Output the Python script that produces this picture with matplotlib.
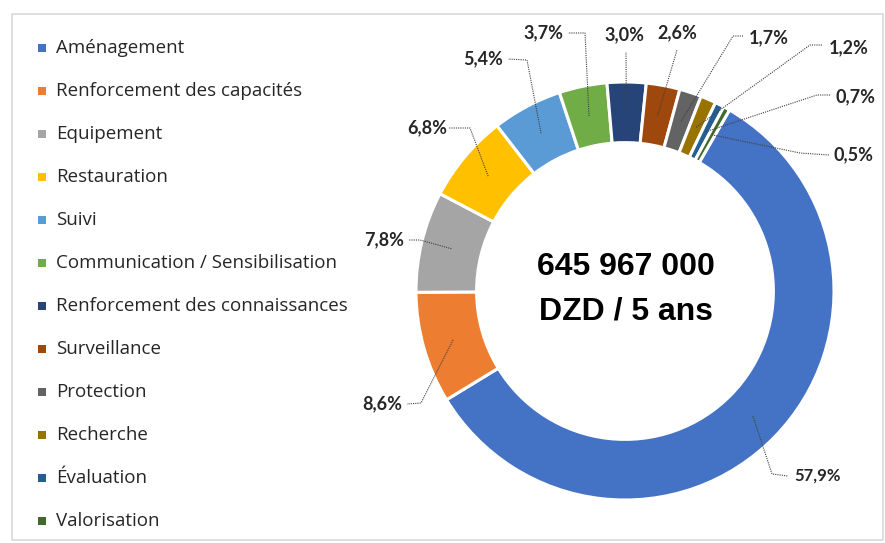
import numpy as np
import matplotlib
matplotlib.use("Agg")
import matplotlib.pyplot as plt
from matplotlib.patches import Rectangle

# ---------------- data ----------------
categories = ["Aménagement", "Renforcement des capacités", "Equipement", "Restauration",
              "Suivi", "Communication / Sensibilisation", "Renforcement des connaissances",
              "Surveillance", "Protection", "Recherche", "Évaluation", "Valorisation"]
shares = [57.9, 8.6, 7.8, 6.8, 5.4, 3.7, 3.0, 2.6, 1.7, 1.2, 0.7, 0.5]
colors = ["#4472C4", "#ED7D31", "#A5A5A5", "#FFC000", "#5B9BD5", "#70AD47",
          "#264478", "#9E480E", "#636363", "#997300", "#255E91", "#43682B"]
center_lines = ["645 967 000", "DZD / 5 ans"]

# ---------------- layout (pixels, y downward) ----------------
W, H = 885, 543
cx, cy, R, ring = 625, 291, 209, 0.29
label_xy = [(818, 476), (382, 404), (384, 240), (427, 128), (483, 59), (543, 33),
            (624, 35), (677, 33), (769, 38), (849, 48), (856, 97), (854, 155)]
leader_pts = [[(772, 474), (788, 476)], [(421, 403), (407, 404)], [(420, 240), (409, 240)],
              [(470, 128), (449, 128)], [(527, 60), (508, 59)], [(585, 33), (568, 33)],
              [(626, 52)], [(677, 50)], [(733, 36), (743, 36)], [(810, 45), (822, 45)],
              [(817, 95), (831, 95)], [(800, 153), (829, 155)]]

fig = plt.figure(figsize=(W / 100, H / 100), dpi=100)
fig.patch.set_facecolor("white")
ax = fig.add_axes([0, 0, 1, 1])

wedges, _ = ax.pie(shares, colors=colors, startangle=-60, counterclock=True,
                   center=(cx, cy), radius=R,
                   wedgeprops=dict(width=R * ring, edgecolor="white", linewidth=2.2))
ax.set_xlim(0, W)
ax.set_ylim(H, 0)
ax.set_aspect("equal")
ax.axis("off")

# frame
ax.add_patch(Rectangle((12, 14), W - 14, H - 17, fill=False, edgecolor="#d9d9d9", lw=1.2))

# data labels with leaders
rmid = R * (1 - ring / 2)
for w, v, (tx, ty), pts in zip(wedges, shares, label_xy, leader_pts):
    th = np.deg2rad((w.theta1 + w.theta2) / 2)
    ax0, ay0 = cx + rmid * np.cos(th), cy + rmid * np.sin(th)
    xs = [ax0] + [p[0] for p in pts]
    ys = [ay0] + [p[1] for p in pts]
    ax.plot(xs, ys, ls=(0, (1, 1)), color="#404040", lw=0.8)
    ax.text(tx, ty, f"{v:.1f}%".replace(".", ","), ha="center", va="center",
            fontsize=13 if v < 50 else 12, fontweight="bold", color="#262626",
            family=["Lato", "DejaVu Sans"])

# centre text
for i, line in enumerate(center_lines):
    ax.text(626, 267 + 45 * i, line, ha="center", va="center", fontsize=23,
            fontweight="bold", color="black",
            family=["Liberation Sans", "DejaVu Sans"])

# legend
for i, (name, c) in enumerate(zip(categories, colors)):
    y = 48 + 43 * i
    ax.add_patch(Rectangle((38, y - 4), 8, 8, facecolor=c, edgecolor="none"))
    ax.text(56, y, name, ha="left", va="center", fontsize=13.5, color="#262626",
            family=["Open Sans", "DejaVu Sans"])

fig.savefig("out.png", dpi=100, facecolor="white")
